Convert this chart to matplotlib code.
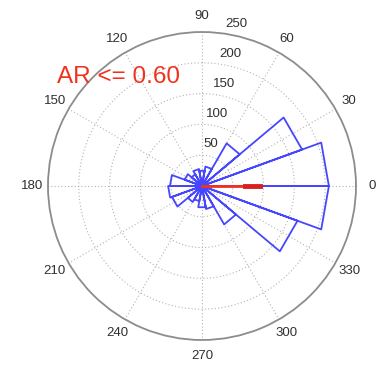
import numpy as np
import matplotlib
matplotlib.use("Agg")
import matplotlib.pyplot as plt

plt.rcParams["font.family"] = ["Liberation Sans", "DejaVu Sans"]

# ── 数据 ──────────────────────────────────────────
bin_edges_deg = np.arange(0, 361, 20)
counts = [206, 173, 80, 32, 25, 28, 22, 30, 52, 55, 52, 30, 25, 35, 38, 72, 165, 206]
mean_dir_deg = 0.0
mean_len = 94
mean_head_start = 70
ar_label = "AR <= 0.60"
angle_ticks = [0, 30, 60, 90, 120, 150, 180, 210, 240, 270, 300, 330]
r_rings = [50, 100, 150, 200, 250]
r_max = 250

blue = "#4646ff"
red = "#f0321e"
grid_c = "#b4b4b4"
text_c = "#303030"

fig = plt.figure(figsize=(3.79, 3.65), dpi=100)
ax = fig.add_axes([0.1266, 0.0685, 0.8127, 0.8438], projection="polar")
ax.set_ylim(0, r_max)
ax.grid(False)
ax.set_xticks([])
ax.set_yticks([])
ax.spines["polar"].set_color("#8c8c8c")
ax.spines["polar"].set_linewidth(1.3)

# 网格
th = np.linspace(0, 2 * np.pi, 361)
for r in r_rings[:-1]:
    ax.plot(th, np.full_like(th, r), ls=(0, (1, 2)), color=grid_c, lw=0.8)
for a in angle_ticks:
    ax.plot([np.deg2rad(a)] * 2, [0, r_max], ls=(0, (1, 2)), color=grid_c, lw=0.8)

# 角度标签
for a in angle_ticks:
    ax.text(np.deg2rad(a), 276, str(a), ha="center", va="center",
            fontsize=9.5, color=text_c, clip_on=False)
# 半径标签
for r in r_rings:
    ax.text(np.deg2rad(78), r + 19, str(r), ha="center", va="center",
            fontsize=9.5, color=text_c, clip_on=False)

# 玫瑰图
tt, rr = [], []
for i, c in enumerate(counts):
    t1 = np.deg2rad(bin_edges_deg[i])
    t2 = np.deg2rad(bin_edges_deg[i + 1])
    tt += [0, t1, t2, 0]
    rr += [0, c, c, 0]
ax.plot(tt, rr, color=blue, lw=1.3)
ax.plot([0], [0], "o", color=blue, ms=8)

# 平均方向
md = np.deg2rad(mean_dir_deg)
ax.plot([md, md], [0, mean_len], color=red, lw=2)
ax.plot([md, md], [mean_head_start, mean_len], color="#d82020", lw=3.5)

fig.text(0.312, 1 - 77 / 365, ar_label, color=red, fontsize=17.5,
         ha="center", va="center")

fig.savefig("out.png", dpi=100)
